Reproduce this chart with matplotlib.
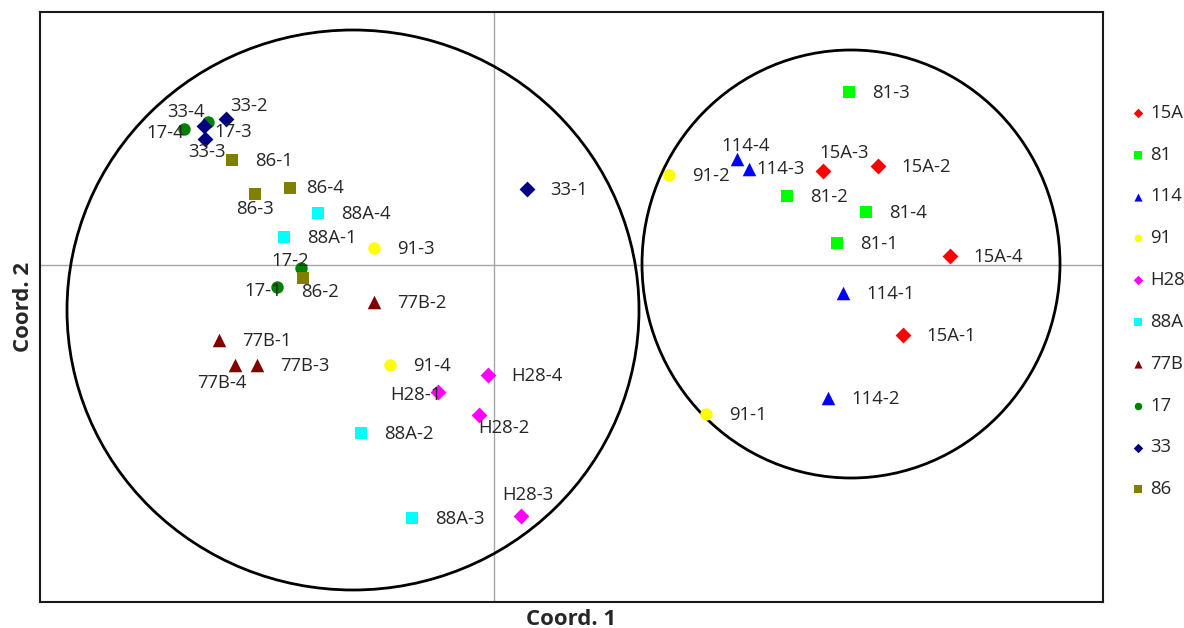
import matplotlib.pyplot as plt
from matplotlib.patches import Ellipse

plt.rcParams['font.family'] = ['Open Sans', 'DejaVu Sans']

groups = ['15A', '81', '114', '91', 'H28', '88A', '77B', '17', '33', '86']
colors = ['#FF0000', '#00FF00', '#0000FF', '#FFFF00', '#FF00FF',
          '#00FFFF', '#800000', '#008000', '#000080', '#808000']
markers = ['D', 's', '^', 'o', 'D', 's', '^', 'o', 'D', 's']

# replicate -1 .. -4 of each group
coord1 = [
    [4.09, 3.84, 3.29, 4.56],      # 15A
    [3.43, 2.93, 3.55, 3.72],      # 81
    [3.49, 3.34, 2.55, 2.43],      # 114
    [2.12, 1.75, -1.20, -1.04],    # 91
    [-0.56, -0.15, 0.27, -0.06],   # H28
    [-2.10, -1.33, -0.82, -1.76],  # 88A
    [-2.75, -1.20, -2.37, -2.59],  # 77B
    [-2.17, -1.93, -2.86, -3.10],  # 17
    [0.33, -2.68, -2.89, -2.90],   # 33
    [-2.62, -1.91, -2.39, -2.04],  # 86
]
coord2 = [
    [-0.70, 0.99, 0.94, 0.09],
    [0.22, 0.69, 1.73, 0.53],
    [-0.28, -1.33, 0.96, 1.06],
    [-1.49, 0.90, 0.17, -1.00],
    [-1.27, -1.50, -2.51, -1.10],
    [0.28, -1.68, -2.53, 0.52],
    [-0.75, -0.37, -1.00, -1.00],
    [-0.22, -0.03, 1.43, 1.36],
    [0.76, 1.46, 1.26, 1.39],
    [1.05, -0.13, 0.71, 0.77],
]

# label placement (ha, dx, dy in pixels), default is to the right
label_pos = {
    '15A-3': ('center', 21, 18),
    '114-4': ('center', 9, 13),
    '114-3': ('left', 7, 0),
    '17-2': ('center', -11, 7),
    '17-1': ('center', -14, -4),
    '86-2': ('left', -2, -14),
    '77B-4': ('center', -13, -18),
    'H28-1': ('center', -22, -3),
    'H28-2': ('center', 25, -13),
    'H28-3': ('center', 7, 21),
    '33-4': ('center', -18, 14),
    '17-3': ('left', 6, -10),
    '17-4': ('center', -19, -4),
    '33-2': ('center', 23, 13),
    '33-3': ('center', 2, -13),
    '86-3': ('center', 0, -15),
    '86-4': ('left', 16, 0),
}

fig = plt.figure(figsize=(11.84, 6.28), dpi=100)
ax = fig.add_axes([40 / 1184, 26 / 628, 1063 / 1184, 590 / 628])

ax.axhline(0, color='#a6a6a6', lw=1, zorder=1)
ax.axvline(0, color='#a6a6a6', lw=1, zorder=1)

ax.add_patch(Ellipse((-1.41, -0.45), 5.72, 5.60, fill=False, ec='black', lw=2, zorder=2))
ax.add_patch(Ellipse((3.57, 0.01), 4.18, 4.28, fill=False, ec='black', lw=2, zorder=2))

for i, g in enumerate(groups):
    size = 65 if markers[i] == 'D' else 80
    if markers[i] == '^':
        size = 95
    ax.scatter(coord1[i], coord2[i], marker=markers[i], s=size, color=colors[i],
               label=g, zorder=3, linewidths=0)
    for j in range(4):
        name = g + '-' + str(j + 1)
        ha, dx, dy = label_pos.get(name, ('left', 23, -1))
        ax.annotate(name, (coord1[i][j], coord2[i][j]), xytext=(dx, dy),
                    textcoords='offset pixels', ha=ha, va='center',
                    fontsize=13.3, color='#262626', zorder=4)

ax.set_xlim(-4.54, 6.09)
ax.set_ylim(-3.37, 2.53)
ax.set_xticks([])
ax.set_yticks([])
for s in ax.spines.values():
    s.set_linewidth(1.5)
    s.set_color('#1a1a1a')

ax.set_xlabel('Coord. 1', fontsize=16, fontweight='bold', color='#262626', labelpad=5)
ax.set_ylabel('Coord. 2', fontsize=16, fontweight='bold', color='#262626', labelpad=4)

leg = ax.legend(loc='upper left', bbox_to_anchor=(1.021, 0.857), frameon=False,
                fontsize=13.3, markerscale=0.6, handlelength=0.6, handletextpad=0.35,
                labelspacing=1.29, borderaxespad=0)
for t in leg.get_texts():
    t.set_color('#262626')

fig.savefig('out.png', dpi=100)
